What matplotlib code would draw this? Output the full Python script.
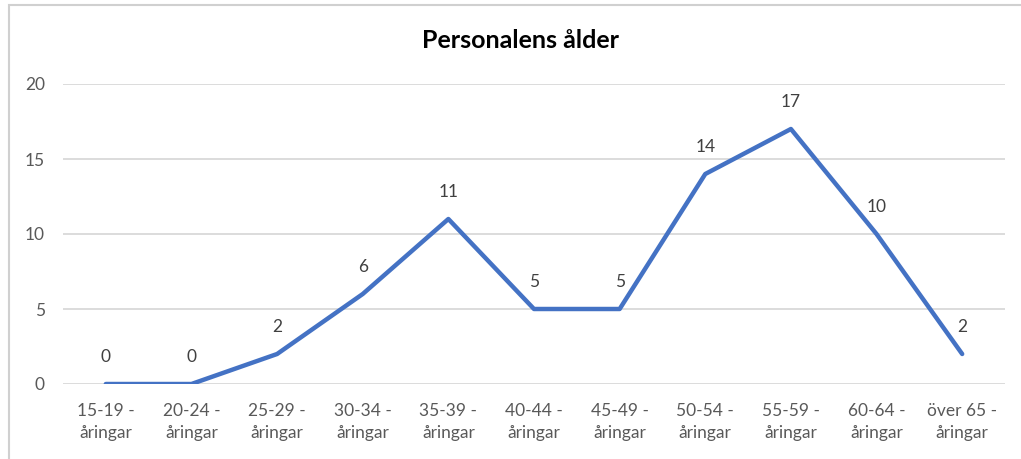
import matplotlib.pyplot as plt
from matplotlib.patches import Rectangle

# data
categories = ["15-19 -\nåringar", "20-24 -\nåringar", "25-29 -\nåringar", "30-34 -\nåringar",
              "35-39 -\nåringar", "40-44 -\nåringar", "45-49 -\nåringar", "50-54 -\nåringar",
              "55-59 -\nåringar", "60-64 -\nåringar", "över 65 -\nåringar"]
values = [0, 0, 2, 6, 11, 5, 5, 14, 17, 10, 2]
yticks = [0, 5, 10, 15, 20]

plt.rcParams['font.family'] = ['Lato', 'DejaVu Sans']

fig = plt.figure(figsize=(10.21, 4.59), dpi=100)
ax = fig.add_axes([63 / 1021, 1 - 384 / 459, (1005 - 63) / 1021, 300 / 459])

x = list(range(len(categories)))
ax.plot(x, values, color="#4472C4", linewidth=3.2, solid_joinstyle="round", solid_capstyle="round", zorder=3)

for xi, v in zip(x, values):
    ax.annotate(str(v), (xi, v), xytext=(0, 14), textcoords="offset points",
                ha="center", va="bottom", fontsize=12.5, color="#404040")

ax.set_xlim(-0.5, len(categories) - 0.5)
ax.set_ylim(0, 20)
ax.set_yticks(yticks)
ax.set_xticks(x)
ax.set_xticklabels(categories, fontsize=12.5, color="#595959", linespacing=1.45)
ax.tick_params(axis="y", labelsize=12.5, labelcolor="#595959", length=0, pad=13)
ax.tick_params(axis="x", length=0, pad=14)
ax.grid(axis="y", color="#D9D9D9", linewidth=1.3)
ax.set_axisbelow(True)
for s in ax.spines.values():
    s.set_visible(False)

fig.text(520 / 1021, 1 - 40 / 459, "Personalens ålder", ha="center", va="center",
         fontsize=18, fontweight="bold", color="black")

# outer chart frame
fig.patches.append(Rectangle((9 / 1021, -0.1), 1.5, 1 - 5 / 459 + 0.1, transform=fig.transFigure,
                             fill=False, edgecolor="#D0D0D0", linewidth=1.5))

fig.savefig("out.png", dpi=100)
